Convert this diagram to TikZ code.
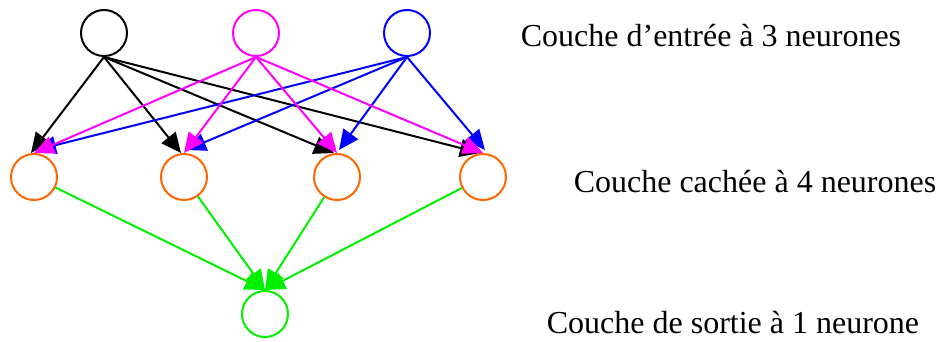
\documentclass[tikz,border=0pt]{standalone}
\usepackage{fontspec}
\setmainfont{Liberation Serif}
\usetikzlibrary{arrows.meta}
\definecolor{myorange}{RGB}{255,102,0}
\definecolor{mygreen}{RGB}{0,240,0}
\definecolor{mymagenta}{RGB}{255,0,255}
\definecolor{myblue}{RGB}{0,0,255}
\begin{document}
\begin{tikzpicture}[x=1pt,y=-1pt,
 neuron/.style={circle,draw,minimum size=46pt,inner sep=0pt,line width=2pt},
 conn/.style={line width=2pt,-{Triangle[length=20pt,width=18pt]}},
 lbl/.style={font=\fontsize{32}{36}\selectfont,anchor=base,inner sep=0pt}]
\useasboundingbox (0,0) rectangle (939,342);
% input layer
\node[neuron,draw=black] (i1) at (104,33) {};
\node[neuron,draw=mymagenta] (i2) at (256,33) {};
\node[neuron,draw=myblue] (i3) at (407,33) {};
% hidden layer
\node[neuron,draw=myorange] (h1) at (34,177) {};
\node[neuron,draw=myorange] (h2) at (184,177) {};
\node[neuron,draw=myorange] (h3) at (337,177) {};
\node[neuron,draw=myorange] (h4) at (483,177) {};
% output
\node[neuron,draw=mygreen] (o) at (265,314) {};
% connections
\foreach \h in {h1,h2,h3,h4}{
  \draw[conn,black] (i1.south) -- ([xshift=-3pt]\h.north);
}
\foreach \h in {h1,h2,h3,h4}{
  \draw[conn,myblue] (i3.south) -- ([xshift=2pt,yshift=3pt]\h.north);
}
\foreach \h in {h1,h2,h3,h4}{
  \draw[conn,mymagenta] (i2.south) -- (\h.north);
}
\foreach \h in {h1,h2,h3,h4}{
  \draw[conn,mygreen] (\h) -- (o.north);
}
% labels
\node[lbl] (l1) at (711,47) {Couche d’entrée à 3 neurones};
\node[lbl] (l2) at (755,192) {Couche cachée à 4 neurones};
\node[lbl] (l3) at (733,333) {Couche de sortie à 1 neurone};
\end{tikzpicture}
\end{document}
